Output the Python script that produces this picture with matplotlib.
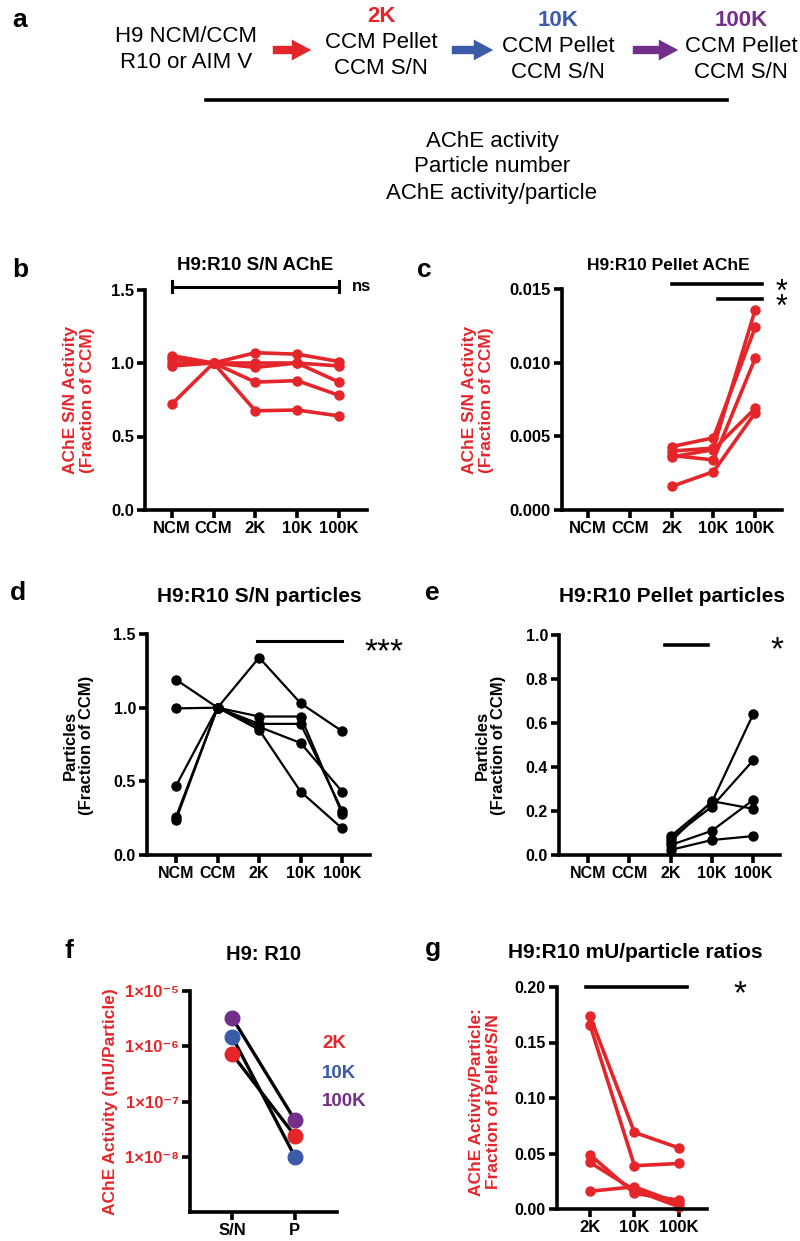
import matplotlib.pyplot as plt
from matplotlib.ticker import FixedLocator, NullLocator

plt.rcParams['font.family'] = ['Liberation Sans', 'DejaVu Sans']
plt.rcParams['font.weight'] = 'bold'

RED = '#e4262b'
BLUE = '#3b5ba9'
PURPLE = '#73308a'
W, H = 800, 1241

stages = ['NCM', 'CCM', '2K', '10K', '100K']
spins = ['2K', '10K', '100K']

# b: S/N AChE activity, fraction of CCM (one row per experiment)
b_sn_ache = [
    [1.05, 1.00, 1.07, 1.06, 1.01],
    [1.03, 1.00, 1.00, 1.00, 0.98],
    [1.00, 1.00, 0.97, 1.00, 0.87],
    [0.98, 1.00, 0.87, 0.88, 0.78],
    [0.72, 1.00, 0.675, 0.68, 0.64],
]
# c: pellet AChE activity (2K, 10K, 100K)
c_pellet_ache = [
    [0.0043, 0.0049, 0.0124],
    [0.0040, 0.0042, 0.0136],
    [0.0037, 0.0034, 0.0103],
    [0.0036, 0.0041, 0.0069],
    [0.0016, 0.0026, 0.0066],
]
# d: S/N particles
d_sn_particles = [
    [0.26, 1.00, 1.34, 1.03, 0.84],
    [1.19, 1.00, 0.94, 0.94, 0.28],
    [0.995, 1.00, 0.89, 0.89, 0.30],
    [0.47, 1.00, 0.87, 0.76, 0.43],
    [0.24, 1.00, 0.85, 0.43, 0.18],
]
# e: pellet particles (2K, 10K, 100K)
e_pellet_particles = [
    [0.085, 0.24, 0.64],
    [0.075, 0.22, 0.43],
    [0.06, 0.245, 0.21],
    [0.045, 0.11, 0.25],
    [0.023, 0.068, 0.086],
]
# f: mU per particle, S/N vs pellet, for 2K/10K/100K
f_groups = ['S/N', 'P']
f_sn = [7.2e-7, 1.5e-6, 3.3e-6]
f_pellet = [2.4e-8, 1.0e-8, 4.6e-8]
f_exponents = [-8, -7, -6, -5]
# g: pellet/S/N ratio of mU/particle
g_ratio = [
    [0.174, 0.069, 0.055],
    [0.166, 0.039, 0.041],
    [0.049, 0.014, 0.008],
    [0.042, 0.017, 0.002],
    [0.016, 0.020, 0.005],
]

fig = plt.figure(figsize=(W / 100, H / 100), dpi=100)


def px_axes(x0, ytop, x1, ybot):
    return fig.add_axes([x0 / W, 1 - ybot / H, (x1 - x0) / W, (ybot - ytop) / H])


def prism(ax, xfs=12, yfs=11.5):
    for s in ['top', 'right']:
        ax.spines[s].set_visible(False)
    for s in ['left', 'bottom']:
        ax.spines[s].set_linewidth(2.6)
    ax.tick_params(direction='out', length=6, width=2.6, pad=2)
    ax.tick_params(axis='x', labelsize=xfs)
    ax.tick_params(axis='y', labelsize=yfs)


def star(ax, x, y, s, fs=22, ls=1.2):
    ax.text(x, y, s, ha='center', va='center', fontsize=fs, fontweight='normal',
            transform=ax.transData, clip_on=False, linespacing=ls)


xs5 = list(range(len(stages)))
xs3 = [stages.index(s) for s in spins]

# ---- b
ax = px_axes(145, 289.5, 367, 510)
for row in b_sn_ache:
    ax.plot(xs5, row, color=RED, lw=2.6, marker='o', ms=6.5, clip_on=False)
ax.set_xlim(-0.64, 4.67)
ax.set_ylim(0, 1.5)
ax.set_xticks(xs5, stages)
ax.set_yticks([0, 0.5, 1.0, 1.5], ['0.0', '0.5', '1.0', '1.5'])
prism(ax, 12, 12)
ax.plot([0, 4], [1.52, 1.52], color='k', lw=2.2, clip_on=False)
ax.plot([0, 0], [1.485, 1.555], color='k', lw=2.2, clip_on=False)
ax.plot([4, 4], [1.485, 1.555], color='k', lw=2.2, clip_on=False)
ax.text(4.3, 1.52, 'ns', ha='left', va='center', fontsize=12, clip_on=False)

# ---- c
ax = px_axes(562, 289, 782, 510)
for row in c_pellet_ache:
    ax.plot(xs3, row, color=RED, lw=2.6, marker='o', ms=6.5, clip_on=False)
ax.set_xlim(-0.62, 4.64)
ax.set_ylim(0, 0.015)
ax.set_xticks(xs5, stages)
ax.set_yticks([0, 0.005, 0.010, 0.015], ['0.000', '0.005', '0.010', '0.015'])
prism(ax, 12, 12)
ax.plot([2, 4.17], [0.01534, 0.01534], color='k', lw=2.6, clip_on=False)
ax.plot([3.1, 4.17], [0.01432, 0.01432], color='k', lw=2.6, clip_on=False)
star(ax, 4.64, 0.01425, '*\n*', 22, 0.36)

# ---- d
ax = px_axes(147, 634, 370, 855)
for row in d_sn_particles:
    ax.plot(xs5, row, color='k', lw=1.6, marker='o', ms=6.5, clip_on=False)
ax.set_xlim(-0.7, 4.67)
ax.set_ylim(0, 1.5)
ax.set_xticks(xs5, stages)
ax.set_yticks([0, 0.5, 1.0, 1.5], ['0.0', '0.5', '1.0', '1.5'])
prism(ax, 11.5, 11.5)
ax.plot([1.95, 4.0], [1.45, 1.45], color='k', lw=2.2, clip_on=False)
star(ax, 5.0, 1.37, '***', 24)

# ---- e
ax = px_axes(559, 635, 780, 855)
for row in e_pellet_particles:
    ax.plot(xs3, row, color='k', lw=1.6, marker='o', ms=6.5, clip_on=False)
ax.set_xlim(-0.7, 4.65)
ax.set_ylim(0, 1.0)
ax.set_xticks(xs5, stages)
ax.set_yticks([0, 0.2, 0.4, 0.6, 0.8, 1.0], ['0.0', '0.2', '0.4', '0.6', '0.8', '1.0'])
prism(ax, 11.5, 11.5)
ax.plot([1.87, 2.91], [0.955, 0.955], color='k', lw=2.6, clip_on=False)
star(ax, 4.58, 0.93, '*', 24)

# ---- f
f_colors = [RED, BLUE, PURPLE]
ax = px_axes(190, 991, 337, 1212)
ax.set_yscale('log')
for sn, pel, col in zip(f_sn, f_pellet, f_colors):
    ax.plot([0, 1], [sn, pel], color='k', lw=2.4, zorder=2)
    ax.plot([0, 1], [sn, pel], ls='none', marker='o', ms=10.5, color=col,
            zorder=3, clip_on=False)
ax.set_xlim(-0.67, 1.67)
ax.set_ylim(1e-9, 1e-5)
ax.set_xticks([0, 1], f_groups)
sup = str.maketrans('-0123456789', '⁻⁰¹²³⁴⁵⁶⁷⁸⁹')
ax.yaxis.set_major_locator(FixedLocator([10.0 ** e for e in f_exponents]))
ax.yaxis.set_minor_locator(NullLocator())
ax.set_yticklabels(['1×10' + str(e).translate(sup) for e in f_exponents])
prism(ax, 12, 12)
ax.tick_params(axis='y', labelcolor=RED)
for lab, col, yy in zip(spins, f_colors, [1044, 1073, 1101]):
    fig.text(322 / W, 1 - yy / H, lab, color=col, fontsize=13.5,
             ha='left', va='center')

# ---- g
ax = px_axes(557, 987, 707, 1209)
for row in g_ratio:
    ax.plot(range(len(spins)), row, color=RED, lw=2.6, marker='o', ms=6.5,
            clip_on=False)
ax.set_xlim(-0.74, 2.63)
ax.set_ylim(0, 0.2)
ax.set_xticks(range(len(spins)), spins)
ax.set_yticks([0, 0.05, 0.10, 0.15, 0.20], ['0.00', '0.05', '0.10', '0.15', '0.20'])
prism(ax, 12, 11.5)
ax.plot([-0.09, 2.17], [0.2, 0.2], color='k', lw=2.6, clip_on=False)
star(ax, 3.37, 0.193, '*', 24)

# ---- overlay in pixel coordinates: panel a, titles, letters, y labels
ov = fig.add_axes([0, 0, 1, 1])
ov.set_xlim(0, W)
ov.set_ylim(H, 0)
ov.axis('off')

ov.text(186, 37, 'H9 NCM/CCM', ha='center', va='center', fontsize=16, fontweight='normal')
ov.text(186, 62, 'R10 or AIM V', ha='center', va='center', fontsize=16, fontweight='normal')
for lab, col, cx, cy in zip(spins, f_colors, [381, 558, 741], [16, 21, 21]):
    ov.text(cx, cy, lab, ha='center', va='center', fontsize=16, color=col)
    ov.text(cx, cy + 26, 'CCM Pellet', ha='center', va='center', fontsize=16,
            fontweight='normal')
    ov.text(cx, cy + 52, 'CCM S/N', ha='center', va='center', fontsize=16,
            fontweight='normal')
for col, (xa, xb) in zip(f_colors, [(270, 314), (449, 496), (630, 681)]):
    ov.annotate('', xy=(xb, 50), xytext=(xa, 50),
                arrowprops=dict(arrowstyle='simple,head_length=0.7,head_width=0.75,tail_width=0.3',
                                color=col, lw=0, mutation_scale=20))
ov.plot([206, 727], [100, 100], color='k', lw=2.6)
for yy, t in zip([142, 167, 193], ['AChE activity', 'Particle number', 'AChE activity/particle']):
    ov.text(492, yy, t, ha='center', va='center', fontsize=16, fontweight='normal')

titles = [
    (255, 266, 'H9:R10 S/N AChE', 13.5),
    (668, 266, 'H9:R10 Pellet AChE', 12.5),
    (259, 597, 'H9:R10 S/N particles', 15),
    (672, 597, 'H9:R10 Pellet particles', 15),
    (264, 954, 'H9: R10', 14.5),
    (635, 952, 'H9:R10 mU/particle ratios', 15),
]
for x, y, t, fs in titles:
    ov.text(x, y, t, ha='center', va='center', fontsize=fs)

letters = [('a', 20, 20), ('b', 20, 270), ('c', 424, 270), ('d', 18, 593),
           ('e', 432, 593), ('f', 69, 951), ('g', 433, 949)]
for t, x, y in letters:
    ov.text(x, y, t, ha='center', va='center', fontsize=19)

ylabels = [
    (79, 400, 'AChE S/N Activity\n(Fraction of CCM)', RED, 12.5),
    (478, 400, 'AChE S/N Activity\n(Fraction of CCM)', RED, 12.5),
    (78, 745, 'Particles\n(Fraction of CCM)', 'k', 12),
    (490, 745, 'Particles\n(Fraction of CCM)', 'k', 12),
    (110, 1102, 'AChE Activity (mU/Particle)', RED, 12.5),
    (485, 1102, 'AChE Activity/Particle:\nFraction of Pellet/S/N', RED, 12.5),
]
for x, y, t, col, fs in ylabels:
    ov.text(x, y, t, ha='center', va='center', rotation=90, color=col,
            fontsize=fs, linespacing=1.1)

fig.savefig('out.png', dpi=100)
